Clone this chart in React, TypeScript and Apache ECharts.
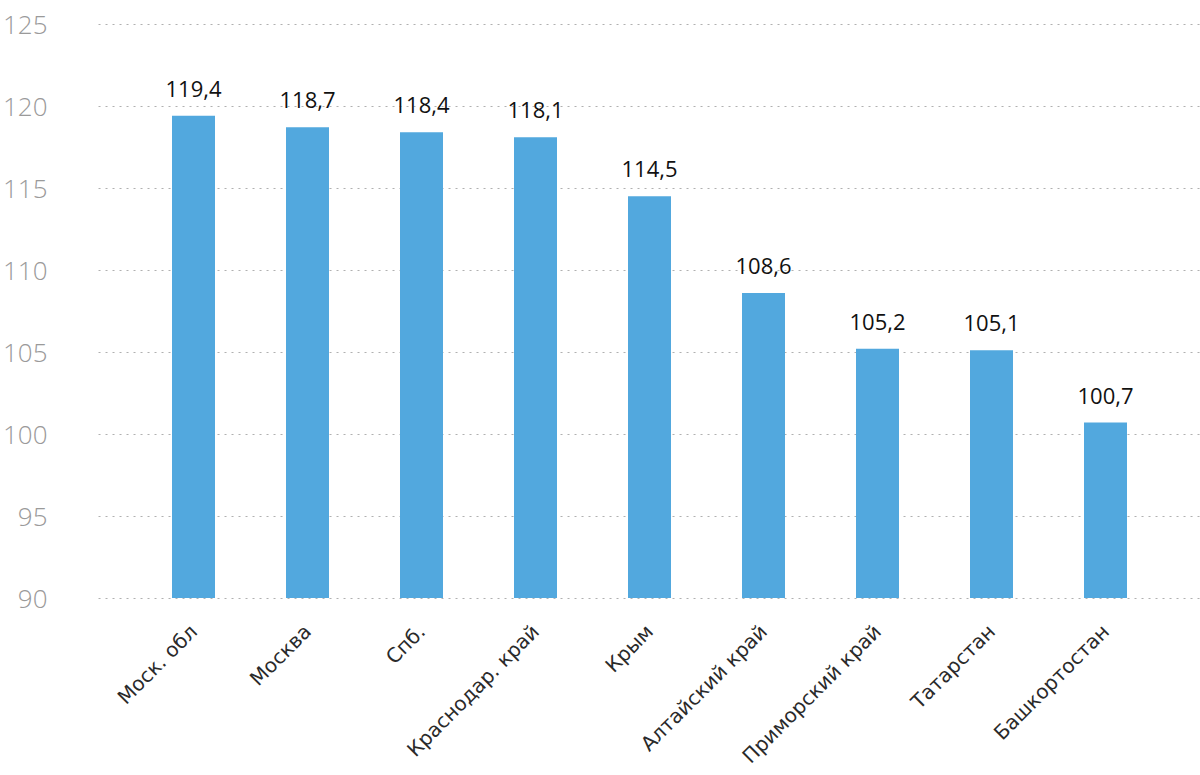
import React, { useEffect, useRef } from "react";
import * as echarts from "echarts";

const categories = [
  "Моск. обл",
  "Москва",
  "Спб.",
  "Краснодар. край",
  "Крым",
  "Алтайский край",
  "Приморский край",
  "Татарстан",
  "Башкортостан",
];
const values = [119.4, 118.7, 118.4, 118.1, 114.5, 108.6, 105.2, 105.1, 100.7];
const yMin = 90;
const yMax = 125;
const yStep = 5;

export default function App() {
  const ref = useRef<HTMLDivElement>(null);
  useEffect(() => {
    document.body.style.margin = "0";
    if (!ref.current) return;
    const chart = echarts.init(ref.current, null, { renderer: "svg" });
    const font = "'Open Sans', sans-serif";
    chart.setOption({
      animation: false,
      backgroundColor: "#ffffff",
      grid: [
        { left: 98, right: 0, top: 24, bottom: 177 },
        { left: 136.5, width: 1026, top: 24, bottom: 177 },
      ],
      xAxis: [
        { gridIndex: 0, type: "value", show: false, min: 0, max: 1 },
        {
          gridIndex: 1,
          type: "category",
          data: categories,
          axisLine: { show: false },
          axisTick: { show: false },
          axisLabel: {
            rotate: 45,
            interval: 0,
            margin: 30,
            fontSize: 20,
            fontFamily: "'DejaVu Sans', sans-serif",
            color: "#2a2a2a",
          },
        },
      ],
      yAxis: [
        {
          gridIndex: 0,
          type: "value",
          min: yMin,
          max: yMax,
          interval: yStep,
          axisLine: { show: false },
          axisTick: { show: false },
          axisLabel: {
            margin: 51,
            fontSize: 26,
            fontFamily: font,
            fontWeight: 300,
            color: "#9a9a9a",
          },
          splitLine: {
            show: true,
            lineStyle: { color: "#b0b0b0", type: [2, 5], width: 1 },
          },
        },
        {
          gridIndex: 1,
          type: "value",
          min: yMin,
          max: yMax,
          interval: yStep,
          show: false,
          splitLine: { show: false },
        },
      ],
      series: [
        {
          type: "bar",
          xAxisIndex: 1,
          yAxisIndex: 1,
          data: values,
          barWidth: 43,
          itemStyle: { color: "#52a8de" },
          label: {
            show: true,
            position: "top",
            distance: 17,
            fontSize: 22,
            fontFamily: font,
            color: "#111111",
            formatter: (p: any) => String(p.value).replace(".", ","),
          },
        },
      ],
    });
    return () => chart.dispose();
  }, []);
  return <div ref={ref} style={{ width: 1200, height: 775 }} />;
}
